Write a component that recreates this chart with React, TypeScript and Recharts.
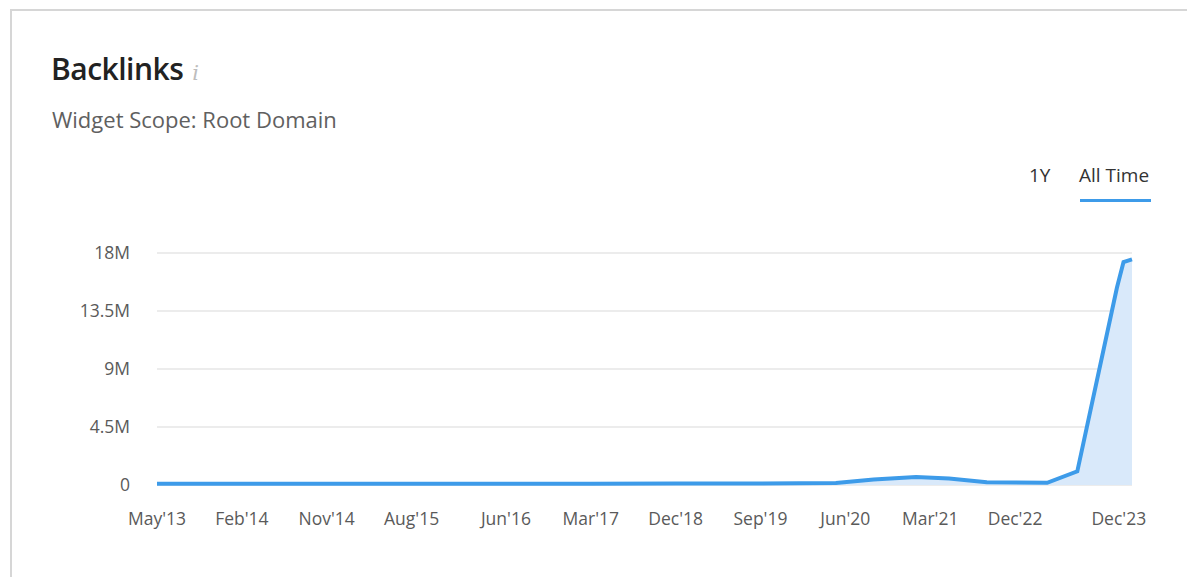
import React from "react";
import {
  ComposedChart,
  Area,
  Line,
  XAxis,
  YAxis,
  CartesianGrid,
} from "recharts";

// position along the time axis (tick units) and backlink counts
const positions = [0, 9, 18, 27, 37, 46, 55, 64, 72, 76, 80.5, 84, 88, 94.4, 97.6, 101.8, 102.5, 103.4];
const backlinks = [
  90000, 95000, 95000, 100000, 100000, 105000, 110000, 115000, 150000, 420000,
  620000, 500000, 220000, 170000, 1060000, 15300000, 17300000, 17500000,
];

const tickPositions = [0, 9, 18, 27, 37, 46, 55, 64, 73, 82, 91, 102];
const tickLabels = [
  "May'13", "Feb'14", "Nov'14", "Aug'15", "Jun'16", "Mar'17",
  "Dec'18", "Sep'19", "Jun'20", "Mar'21", "Dec'22", "Dec'23",
];
const yTicks = [0, 4500000, 9000000, 13500000, 18000000];
const yLabels = ["0", "4.5M", "9M", "13.5M", "18M"];

const data = positions.map((t, i) => ({ t, v: backlinks[i] }));

const FONT = "'Open Sans', 'Noto Sans', sans-serif";
const BLUE = "#3d9be9";

export default function App() {
  return (
    <div
      style={{
        position: "absolute",
        top: 0,
        left: 0,
        width: 1187,
        height: 577,
        overflow: "hidden",
        background: "#fff",
        fontFamily: FONT,
      }}
    >
      {/* card edges */}
      <div
        style={{
          position: "absolute",
          left: 10,
          top: 9,
          width: 1300,
          height: 700,
          borderTop: "2px solid #d6d6d6",
          borderLeft: "2px solid #d6d6d6",
        }}
      />
      <div
        style={{
          position: "absolute",
          left: 51,
          top: 48,
          fontSize: 30,
          fontWeight: 600,
          color: "#222",
          letterSpacing: -0.5,
          whiteSpace: "nowrap",
        }}
      >
        Backlinks
        <span
          style={{
            marginLeft: 9,
            fontSize: 21,
            fontStyle: "italic",
            fontFamily: "'DejaVu Serif', serif",
            fontWeight: 400,
            color: "#bdbdbd",
          }}
        >
          i
        </span>
      </div>
      <div
        style={{
          position: "absolute",
          left: 52,
          top: 104,
          fontSize: 22,
          color: "#606060",
          whiteSpace: "nowrap",
        }}
      >
        Widget Scope: Root Domain
      </div>
      <div
        style={{
          position: "absolute",
          left: 1029,
          top: 162,
          fontSize: 19,
          color: "#333",
        }}
      >
        1Y
      </div>
      <div
        style={{
          position: "absolute",
          left: 1079,
          top: 162,
          fontSize: 19,
          color: "#333",
          whiteSpace: "nowrap",
        }}
      >
        All Time
      </div>
      <div
        style={{
          position: "absolute",
          left: 1080,
          top: 199,
          width: 71,
          height: 3,
          background: BLUE,
        }}
      />
      <div style={{ position: "absolute", left: 0, top: 0 }}>
        <ComposedChart
          width={1187}
          height={577}
          data={data}
          margin={{ top: 253, right: 55, bottom: 0, left: 97 }}
        >
          <CartesianGrid vertical={false} stroke="#e6e6e6" strokeWidth={1.5} />
          <XAxis
            dataKey="t"
            type="number"
            domain={[0, 103.4]}
            ticks={tickPositions}
            interval={0}
            tickFormatter={(v: number) => tickLabels[tickPositions.indexOf(v)]}
            axisLine={false}
            tickLine={false}
            tickMargin={22}
            height={92}
            tick={{ fill: "#5a5a5a", fontSize: 17.5, fontFamily: FONT }}
          />
          <YAxis
            type="number"
            domain={[0, 18000000]}
            ticks={yTicks}
            tickFormatter={(v: number) => yLabels[yTicks.indexOf(v)]}
            axisLine={false}
            tickLine={false}
            tickMargin={21}
            width={60}
            tick={{ fill: "#5a5a5a", fontSize: 17.5, fontFamily: FONT }}
          />
          <Area
            dataKey="v"
            type="linear"
            stroke="none"
            fill="#d9e9fa"
            fillOpacity={1}
            isAnimationActive={false}
          />
          <Line
            dataKey="v"
            type="linear"
            stroke={BLUE}
            strokeWidth={4}
            dot={false}
            activeDot={false}
            isAnimationActive={false}
          />
        </ComposedChart>
      </div>
    </div>
  );
}
